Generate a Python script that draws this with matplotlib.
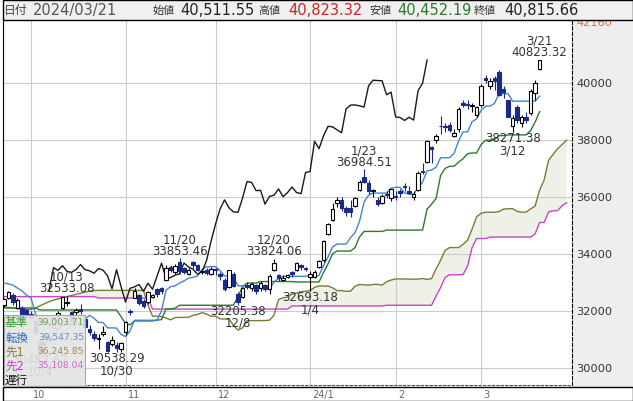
import matplotlib
matplotlib.use("Agg")
import matplotlib.pyplot as plt
import numpy as np
from matplotlib.patches import Rectangle

plt.rcParams['font.family'] = ['DejaVu Sans', 'Noto Sans CJK JP']

# trading day index: 2023/10/02 = 0, first candle 2023/09/22 = -6, last 2024/03/21 = 113
opens = [
    32200, 32450, 32550, 32100, 32100, 32020, 31900, 31650, 30900, 30840,
    31100, 31400, 31850, 32100, 32280, 31950, 31950, 32050, 31700, 31350,
    31200, 31000, 31200, 30900, 30850, 30800, 30650, 31250, 31980, 32450,
    32550, 32350, 32300, 32500, 32750, 32800, 33100, 33550, 33350, 33700,
    33500, 33300, 33700, 33600, 33350, 33450, 33300, 33450, 33300, 33100,
    32850, 33300, 32600, 32500, 32900, 32800, 32900, 32800, 32900, 32750,
    33450, 33250, 33100, 33200, 33350, 33450, 33600, 33500, 33200, 33200,
    33550, 33800, 34700, 35200, 35800, 35900, 35600, 35600, 35700, 36250,
    36700, 36500, 36200, 35900, 35800, 36100, 35950, 36050, 36200, 36400,
    36200, 36000, 36250, 36900, 37250, 37750, 38000, 38500, 38500, 38550,
    38150, 38400, 39300, 39250, 39200, 38900, 39250, 40200, 39900, 40200,
    40400, 39800, 39400, 38500, 39150, 38600, 38800, 38950, 39650, 40511.55,
]
highs = [
    32450, 32700, 32620, 32450, 32180, 32080, 32000, 31700, 30990, 31100,
    31250, 31780, 32000, 32500, 32533.08, 32000, 32100, 32250, 31800, 31500,
    31300, 31200, 31470, 30950, 31100, 30900, 30900, 31650, 32050, 32800,
    32600, 32400, 32700, 32600, 32800, 32850, 33600, 33600, 33650, 33853.46,
    33550, 33500, 33750, 33650, 33450, 33500, 33550, 33500, 33350, 33150,
    33450, 33350, 32650, 32850, 33000, 33000, 32950, 33050, 32950, 33300,
    33824.06, 33300, 33250, 33300, 33400, 33700, 33650, 33550, 33400, 33450,
    33800, 34500, 35100, 35800, 36000, 36000, 35700, 35900, 36000, 36600,
    36984.51, 36600, 36300, 36000, 36100, 36200, 36300, 36200, 36300, 36500,
    36400, 36200, 36900, 37200, 38000, 37800, 38200, 38865, 38600, 38650,
    38400, 39150, 39400, 39400, 39300, 39200, 39990, 40300, 40200, 40250,
    40472, 39900, 39400, 38900, 39250, 38900, 39000, 39800, 40100, 40823.32,
]
lows = [
    32150, 32400, 32200, 32050, 31830, 31760, 31700, 31180, 30487.67, 30780,
    30900, 31350, 31780, 32050, 32170, 31600, 31850, 31900, 31350, 31150,
    30950, 30650, 31100, 30550, 30750, 30538.29, 30550, 31150, 31850, 32450,
    32200, 32100, 32250, 32450, 32500, 32600, 33050, 33350, 33300, 33300,
    33300, 33250, 33500, 33400, 33300, 33250, 33250, 33250, 33100, 32700,
    32800, 32850, 32205.38, 32450, 32750, 32700, 32600, 32700, 32700, 32600,
    33400, 33050, 33050, 33150, 33200, 33400, 33450, 33400, 32693.18, 33150,
    33500, 33700, 34650, 35150, 35650, 35500, 35350, 35300, 35650, 36200,
    36500, 36100, 36000, 35700, 35750, 35950, 35850, 35900, 36000, 36200,
    36100, 35900, 36200, 36800, 37200, 37184, 37900, 38200, 38300, 38300,
    38100, 38300, 39150, 39100, 39000, 38800, 39150, 40000, 39800, 39750,
    39550, 39500, 38800, 38271.38, 38600, 38450, 38600, 38900, 39400, 40452.19,
]
closes = [
    32402, 32678, 32315, 32371, 31872, 31857, 31759, 31238, 30526, 31075,
    30994, 31746, 31936, 32494, 32315, 31659, 32040, 31999, 31430, 31259,
    31062, 31062, 31269, 30601, 30991, 30697, 30858, 31601, 31950, 32708,
    32272, 32166, 32646, 32568, 32585, 32695, 33519, 33424, 33585, 33388,
    33354, 33451, 33625, 33447, 33408, 33321, 33486, 33431, 33231, 32775,
    33445, 32858, 32307, 32791, 32843, 32926, 32686, 32970, 32758, 33219,
    33675, 33140, 33169, 33254, 33305, 33681, 33539, 33464, 33288, 33377,
    33763, 34441, 35049, 35577, 35901, 35619, 35477, 35466, 35963, 36546,
    36517, 36226, 36236, 35751, 36026, 36066, 36286, 36011, 36158, 36354,
    36160, 36119, 36863, 36897, 37963, 37703, 38157, 38487, 38470, 38363,
    38262, 39098, 39233, 39239, 39208, 39166, 39910, 40109, 40097, 40090,
    39598, 39688, 38820, 38797, 38695, 38807, 38707, 39740, 40003, 40815.66,
]

# 転換線
tenkan = [
    32975, 32950, 32900, 32800, 32700, 32550, 32450, 31900, 31594, 31594,
    31554, 31469, 31334, 31494, 31510, 31510, 31510, 31656, 31716, 31841,
    31741, 31591, 31591, 31400, 31400, 31394, 31169, 31094, 31294, 31669,
    31669, 31669, 31669, 31669, 31675, 32000, 32725, 32850, 32875, 32977,
    33052, 33152, 33177, 33227, 33452, 33552, 33552, 33552, 33425, 33225,
    33225, 33175, 32878, 32878, 32878, 32853, 32828, 32828, 32828, 32778,
    33015, 33137, 33212, 33212, 33212, 33212, 33212, 33212, 33259, 33197,
    33247, 33597, 33897, 34247, 34347, 34347, 34347, 34575, 34750, 35150,
    35817, 36067, 36142, 36142, 36142, 36142, 36317, 36342, 36342, 36150,
    36100, 36100, 36325, 36525, 36925, 36950, 37050, 37383, 37383, 37383,
    37533, 37975, 38292, 38292, 38650, 38750, 39045, 39200, 39200, 39300,
    39636, 39636, 39636, 39372, 39372, 39372, 39372, 39372, 39372, 39547.35,
]
# 基準線
kijun = [
    32100, 32100, 32100, 32100, 32100, 32100, 32100, 32100, 32030, 32030,
    32030, 32030, 32030, 32030, 32030, 32030, 32030, 32030, 32030, 32030,
    32030, 32030, 32030, 32030, 32030, 32030, 31800, 31554, 31510, 31644,
    31644, 31644, 31644, 31644, 31669, 31694, 32069, 32069, 32094, 32196,
    32196, 32196, 32196, 32196, 32196, 32196, 32196, 32196, 32196, 32196,
    32196, 32201, 32501, 32851, 32976, 32976, 32976, 33029, 33029, 33029,
    33029, 33029, 33029, 33029, 33029, 33015, 33015, 33015, 33015, 33015,
    33015, 33353, 33653, 34003, 34103, 34103, 34103, 34103, 34225, 34600,
    34792, 34792, 34792, 34792, 34792, 34839, 34839, 34839, 34839, 34839,
    34839, 34839, 34839, 34839, 35575, 35750, 35950, 36758, 37008, 37083,
    37083, 37225, 37350, 37525, 37550, 37550, 37845, 38000, 38000, 38025,
    38161, 38161, 38186, 38186, 38186, 38186, 38186, 38336, 38636, 39003.71,
]
# 先行スパン1 / 2 (drawn to 2024/03/29)
span_a = [
    32150, 32120, 32100, 32080, 32060, 32050, 32050, 32100, 32180, 32250,
    32320, 32380, 32420, 32460, 32500, 32540, 32580, 32620, 32660, 32690,
    32710, 32720, 32720, 32720, 32720, 32720, 32720, 32720, 32720, 32720,
    32720, 32720, 32200, 31812, 31812, 31792, 31750, 31682, 31762, 31770,
    31770, 31770, 31843, 31873, 31936, 31886, 31811, 31811, 31715, 31715,
    31712, 31485, 31324, 31402, 31657, 31657, 31657, 31657, 31657, 31672,
    31847, 32397, 32460, 32485, 32587, 32624, 32674, 32687, 32712, 32824,
    32874, 32874, 32874, 32811, 32711, 32711, 32688, 32690, 32865, 32927,
    32915, 32902, 32929, 32929, 32904, 33022, 33083, 33121, 33121, 33121,
    33114, 33114, 33114, 33137, 33106, 33131, 33475, 33775, 34125, 34225,
    34225, 34225, 34339, 34488, 34875, 35305, 35430, 35467, 35467, 35467,
    35491, 35578, 35591, 35591, 35495, 35470, 35470, 35582, 35682, 36245.85,
    36600, 37300, 37500, 37700, 37850, 38000,
]
span_b = [
    32500, 32500, 32500, 32500, 32500, 32500, 32500, 32500, 32500, 32500,
    32500, 32500, 32500, 32500, 32500, 32500, 32500, 32500, 32500, 32500,
    32500, 32450, 32450, 32450, 32450, 32450, 32450, 32450, 32450, 32450,
    32450, 32450, 32450, 32061, 32061, 32061, 32061, 32061, 32061, 32061,
    32061, 32061, 32061, 32061, 32061, 32061, 32061, 32061, 32061, 32061,
    32061, 32061, 32061, 32061, 32061, 32061, 32061, 32061, 32061, 32061,
    32061, 32061, 32061, 32061, 32171, 32171, 32171, 32171, 32171, 32171,
    32171, 32171, 32171, 32171, 32171, 32171, 32171, 32171, 32171, 32171,
    32171, 32171, 32171, 32171, 32171, 32196, 32196, 32196, 32196, 32196,
    32196, 32196, 32196, 32196, 32196, 32196, 32519, 32819, 33169, 33269,
    33269, 33269, 33275, 33575, 34225, 34542, 34542, 34542, 34594, 34594,
    34594, 34594, 34594, 34594, 34594, 34594, 34594, 34594, 34702, 35108.04,
    35108, 35480, 35517, 35520, 35700, 35800,
]

month_pos = [0, 21, 41, 62, 81, 100]
month_labels = ['10', '11', '12', '24/1', '2', '3']
price_ticks = [30000, 32000, 34000, 36000, 38000, 40000]

high_days = [8, 33, 54, 74, 113]
high_dates = ['10/13', '11/20', '12/20', '1/23', '3/21']
low_days = [19, 46, 62, 107]
low_dates = ['10/30', '12/8', '1/4', '3/12']

legend_names = ['基準', '転換', '先1', '先2', '遅行']
legend_values = ['39,003.71', '39,547.35', '36,245.85', '35,108.04', '']
legend_colors = ['#2f9a2f', '#2f6fb5', '#8a7d2e', '#c83cc8', '#111111']
value_colors = ['#6f9a55', '#6a8cc4', '#9c8c55', '#d068d0', '#111111']

W, H = 633, 402
first = -6
days = np.arange(first, first + len(closes))
cloud_days = np.arange(first, first + len(span_a))
o = np.array(opens)
hi = np.array(highs)
lo = np.array(lows)
c = np.array(closes)
sa = np.array(span_a)
sb = np.array(span_b)


def fx(px):
    return px / W


def fy(py):
    return 1 - py / H


fig = plt.figure(figsize=(W / 100, H / 100), dpi=100)
fig.patch.set_facecolor('white')

# background panels
bg = fig.add_axes([0, 0, 1, 1], zorder=-1)
bg.set_xlim(0, W)
bg.set_ylim(H, 0)
bg.axis('off')
bg.add_patch(Rectangle((572, 21), 61, 367, facecolor='#eeeeee', edgecolor='none'))
bg.add_patch(Rectangle((3, 388), 629.5, 13.5, facecolor='white', edgecolor='black', lw=1))

# main chart
ax = fig.add_axes([fx(3), fy(386), fx(572) - fx(3), fy(21) - fy(386)])
ax.set_xlim(-6.22, 120.2)
ax.set_ylim(29392, 42226)
ax.set_xticks(month_pos)
ax.set_yticks(price_ticks)
ax.tick_params(length=0, labelleft=False, labelbottom=False)
ax.grid(True, color='#cccccc', lw=0.8)
ax.set_axisbelow(True)
ax.spines['top'].set_visible(False)
ax.spines['left'].set_color('black')
ax.spines['right'].set_linestyle((0, (3, 2)))
ax.spines['right'].set_color('black')
ax.spines['bottom'].set_linestyle((0, (2, 2)))
ax.spines['bottom'].set_color('#555555')

# cloud
ax.fill_between(cloud_days, sa, sb, where=sa >= sb, interpolate=True,
                color='#edf1e8', lw=0, zorder=0.3)
ax.plot(cloud_days, sb, color='#d040d0', lw=1.0, zorder=2)
ax.plot(cloud_days, sa, color='#7d7a38', lw=1.0, zorder=2)
ax.plot(days, kijun, color='#2c7a2c', lw=1.0, zorder=2.5)
ax.plot(days, tenkan, color='#4585c8', lw=1.0, zorder=2.6)
# 遅行スパン: close shifted 25 days back
ax.plot(days[35:] - 25, c[35:], color='#1a1a1a', lw=1.0, zorder=2.7)

# candles
navy = '#1b2a86'
up = c >= o
bottom = np.minimum(o, c)
height = np.maximum(np.abs(c - o), 25)
ax.vlines(days[up], lo[up], hi[up], color='black', lw=0.8, zorder=4)
ax.vlines(days[~up], lo[~up], hi[~up], color=navy, lw=0.8, zorder=4)
ax.bar(days[up], height[up], bottom=bottom[up], width=0.75, facecolor='white',
       edgecolor='black', linewidth=0.8, zorder=5)
ax.bar(days[~up], height[~up], bottom=bottom[~up], width=0.75, facecolor=navy,
       edgecolor=navy, linewidth=0.8, zorder=5)

# high / low marks
txt = dict(ha='center', va='center', fontsize=8.5, color='#333333',
           textcoords='offset pixels', zorder=6)
for d, lab in zip(high_days, high_dates):
    v = hi[d - first]
    ax.annotate(f'{v:.2f}', (d, v), xytext=(0, 8), **txt)
    ax.annotate(lab, (d, v), xytext=(0, 19.5), **txt)
for d, lab in zip(low_days, low_dates):
    v = lo[d - first]
    ax.annotate(f'{v:.2f}', (d, v), xytext=(0, -5.5), **txt)
    ax.annotate(lab, (d, v), xytext=(0, -17.5), **txt)
# low of 10/4 sits under the legend box, only faintly visible
v = lo[2 - first]
ax.annotate(f'{v:.2f}', (2, v), xytext=(0, -5.5), **txt)
ax.annotate('10/4', (2, v), xytext=(0, -17.5), **txt)

# price labels on the right
ytr = ax.get_yaxis_transform()
for p in price_ticks:
    ax.text(1.008, p, str(p), transform=ytr, ha='left', va='center',
            fontsize=8.2, color='#333333', clip_on=False)
ax.text(1.008, 42160, '42160', transform=ytr, ha='left', va='center',
        fontsize=8.2, color='#e07050', clip_on=False)

# month labels
xtr = ax.get_xaxis_transform()
for p, lab in zip(month_pos, month_labels):
    ax.text(p + 0.5, -0.024, lab, transform=xtr, ha='left', va='center',
            fontsize=7, color='#666666', clip_on=False)

# legend box
lg = fig.add_axes([fx(4), fy(387), (85 - 4) / W, (387 - 316) / H], zorder=2)
lg.set_xlim(4, 85)
lg.set_ylim(387, 316)
lg.set_xticks([])
lg.set_yticks([])
lg.set_facecolor('#e4e4e4')
lg.patch.set_alpha(0.92)
for s in lg.spines.values():
    s.set_color('#a8a8a8')
    s.set_linewidth(0.8)
rows = [323, 338, 352, 366, 380]
for y, name, val, nc, vc in zip(rows, legend_names, legend_values, legend_colors, value_colors):
    lg.text(5, y, name, ha='left', va='center', fontsize=8.3, color=nc)
    if val:
        lg.text(84, y, val, ha='right', va='center', fontsize=6.6, color=vc)

# header
hd = fig.add_axes([0, fy(21), 1, 21 / H], zorder=3)
hd.set_xlim(0, W)
hd.set_ylim(21, 0)
hd.axis('off')
hd.add_patch(Rectangle((3, 0.5), 629.5, 20, facecolor='#f0f0f0', edgecolor='black',
                       lw=1, clip_on=False))
hd.text(4, 10.5, '日付', ha='left', va='center', fontsize=8.5, color='#444444')
hd.text(33, 10.5, '2024/03/21', ha='left', va='center', fontsize=10.5, color='#555555')
head_items = [
    (153, '始値', 180, f'{opens[-1]:,.2f}', '#222222'),
    (258, '高値', 288, f'{highs[-1]:,.2f}', '#d42222'),
    (369, '安値', 397, f'{lows[-1]:,.2f}', '#2a7a2a'),
    (474, '終値', 504, f'{closes[-1]:,.2f}', '#222222'),
]
for lx, lab, vx, val, col in head_items:
    hd.text(lx, 11, lab, ha='left', va='center', fontsize=8, color='#333333')
    hd.text(vx, 10.5, val, ha='left', va='center', fontsize=10.5, color=col)

fig.savefig('out.png', dpi=100)
